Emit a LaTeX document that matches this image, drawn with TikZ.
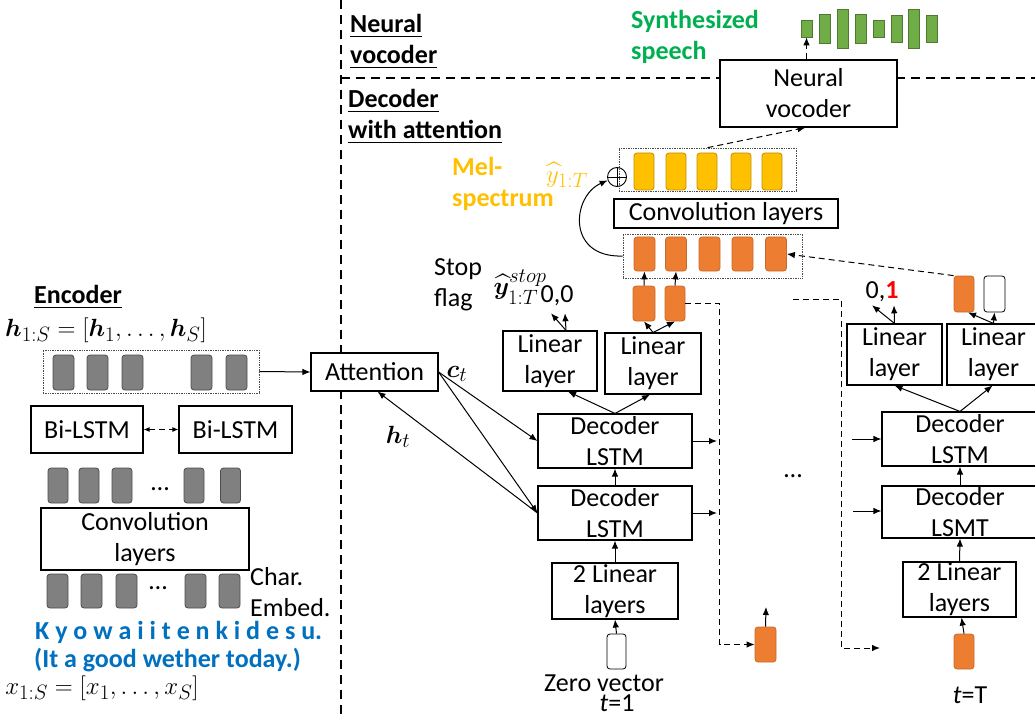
\documentclass[tikz,border=0pt]{standalone}
\usepackage{amsmath, amssymb}
\usepackage{bm}
\usepackage{fontspec}
\setmainfont{Carlito}
\usetikzlibrary{arrows.meta, positioning}

\definecolor{melyellow}{HTML}{FFC000}
\definecolor{melorange}{HTML}{ED7D31}
\definecolor{speechgreen}{HTML}{00B050}
\definecolor{bargreen}{HTML}{70AD47}
\definecolor{textblue}{HTML}{0070C0}

\begin{document}
\begin{tikzpicture}[
    x=1pt, y=-1pt,
    every node/.style={align=center, inner sep=1pt, font=\fontsize{26}{31}\selectfont},
    box/.style={draw, line width=1.1pt, fill=white, inner sep=0pt},
    group/.style={draw=black!70, densely dotted, line width=0.7pt, inner sep=0pt},
    cell/.style={rounded corners=3pt, line width=0.8pt, inner sep=0pt, minimum width=20pt, minimum height=35pt},
    graycell/.style={cell, draw=black!70, fill=black!50},
    orangecell/.style={cell, draw=melorange!85!black, fill=melorange},
    yellowcell/.style={cell, draw=melyellow!75!black, fill=melyellow},
    whitecell/.style={cell, draw=black, fill=white},
    bar/.style={draw=bargreen!70!black, fill=bargreen, line width=0.8pt, inner sep=0pt, minimum width=11pt},
    plus/.style={circle, draw, line width=0.9pt, minimum size=19pt, inner sep=0pt,
        path picture={\draw[line width=0.9pt] (path picture bounding box.north) -- (path picture bounding box.south)
            (path picture bounding box.west) -- (path picture bounding box.east);}},
    arr/.style={-{Latex[length=8pt, width=6.5pt]}, line width=1pt},
    darr/.style={arr, dash pattern=on 6pt off 4pt},
    divider/.style={line width=1.6pt, dash pattern=on 9pt off 6pt},
    section/.style={anchor=west, align=left, font=\fontsize{26}{31}\selectfont\bfseries},
    colortext/.style={anchor=west, align=left, font=\fontsize{26}{31}\selectfont\bfseries},
    mathlabel/.style={font=\fontsize{28}{31}\selectfont},
    val/.style={inner sep=1pt}
]
\useasboundingbox (0,0) rectangle (1035,719);

    % Region borders
    \draw[divider] (341,0) -- (341,719);
    \draw[divider] (341,78) -- (1035,78);

    % Region titles
    \node[section] (vocsec) at (349,42) {\underline{Neural}\\\underline{vocoder}};
    \node[section] (decsec) at (347,116.5) {\underline{Decoder}\\\underline{with attention}};
    \node[section, anchor=center] (encsec) at (78,297) {\underline{Encoder}};

    % Encoder
    \node[mathlabel] (hseq) at (106,330) {$\bm{h}_{1:S}=[\bm{h}_1,\dots,\bm{h}_S]$};
    \node[group, minimum width=216pt, minimum height=43pt] (hgroup) at (151,371.5) {};
    \foreach \x [count=\i] in {63.5,97.5,132.5,201.5,236.5}
        \node[graycell, minimum width=21pt] (h\i) at (\x,372.5) {};
    \node[box, minimum width=112pt, minimum height=47pt] (bifwd) at (87,429.5) {Bi-LSTM};
    \node[box, minimum width=113pt, minimum height=47pt] (bibwd) at (235.5,429.5) {Bi-LSTM};
    \draw[darr, {Latex[length=6pt, width=5pt]}-{Latex[length=6pt, width=5pt]}] (bifwd) -- (bibwd);
    \foreach \x [count=\i] in {58,89,122,194,230.5}
        \node[graycell] (e\i) at (\x,485.5) {};
    \node (edots) at (160,489) {…};
    \node[box, minimum width=208pt, minimum height=62pt] (econv) at (145,539) {Convolution\\layers};
    \foreach \x [count=\i] in {57.5,91.5,126.5,195.5,229.5}
        \node[graycell, minimum width=21pt, minimum height=34pt] (c\i) at (\x,591) {};
    \node (cdots) at (158,588) {…};
    \node[anchor=west, align=left] (charemb) at (249,592) {Char.\\Embed.};
    \node[colortext, text=textblue] (romaji) at (34,632) {K y o w a i i t e n k i d e s u.};
    \node[colortext, text=textblue] (gloss) at (33,660) {(It a good wether today.)};
    \node[mathlabel] (xseq) at (102,688) {$x_{1:S}=[x_1,\dots,x_S]$};

    % Attention
    \node[box, minimum width=127pt, minimum height=38pt] (att) at (374.5,372) {Attention};
    \draw[arr] (hgroup.east) -- (att.west);
    \node[mathlabel] (ct) at (457,374) {$\bm{c}_t$};
    \node[mathlabel] (ht) at (398,437) {$\bm{h}_t$};

    % Neural vocoder
    \node[box, minimum width=177pt, minimum height=67pt] (voc) at (808.5,93.5) {Neural\\vocoder};
    \foreach \x/\h [count=\i] in {806.5/17,825/29,842.5/39,860.5/29,878.5/17,896.5/27,914/39,931.5/27}
        \node[bar, minimum height=\h pt] (bar\i) at (\x,28.5) {};
    \draw[darr] (voc.north -| bar1) -- (bar1.south);
    \node[colortext, text=speechgreen] (speech) at (630,37) {Synthesized\\speech};

    % Post-net
    \node[group, minimum width=177pt, minimum height=43pt] (ygroup) at (707.5,169.5) {};
    \foreach \x [count=\i] in {644,676,707,741,772}
        \node[yellowcell, minimum height=37pt] (y\i) at (\x,171.5) {};
    \node[plus] (plus) at (617,177) {};
    \draw[darr] (ygroup.north) -- ([xshift=-3pt]voc.south);
    \node[box, minimum width=224pt, minimum height=29pt] (pconv) at (726,213.5) {Convolution layers};
    \node[group, minimum width=179pt, minimum height=44pt] (ogroup) at (712.5,256) {};
    \foreach \x [count=\i] in {644.5,676,709.5,742.5,776}
        \node[orangecell, minimum width=21pt, minimum height=34pt] (oc\i) at (\x,254) {};
    \draw[arr] (ogroup.west) .. controls (566,258) and (572,196) .. (plus.200);
    \node[colortext, text=melyellow] (mel) at (451,184) {Mel-\\spectrum};
    \node[mathlabel, text=melyellow] (yhat) at (567,175) {$\widehat{y}_{1:T}$};

    % Decoder step t=1
    \node[box, minimum width=126pt, minimum height=56pt] (pre1) at (615,591) {2 Linear\\layers};
    \node[whitecell, minimum width=19pt] (zero) at (616.5,651.5) {};
    \node[font=\fontsize{26}{20}\selectfont] (zerolab) at (604,693) {Zero vector\\\hspace*{26pt}\textit{t}=1};
    \node[box, minimum width=154pt, minimum height=54pt] (dec1l) at (615,513) {Decoder\\LSTM};
    \node[box, minimum width=154pt, minimum height=54pt] (dec1u) at (615,441) {Decoder\\LSTM};
    \node[box, minimum width=94pt, minimum height=60pt] (lin1s) at (550,361) {Linear\\layer};
    \node[box, minimum width=96pt, minimum height=61pt] (lin1m) at (653,363.5) {Linear\\layer};
    \node[orangecell, minimum width=22pt] (o1) at (644,303.5) {};
    \node[orangecell] (o2) at (675,303.5) {};
    \node[val] (stop1) at (557,296) {0,0};
    \node[anchor=west, align=left] (stopflag) at (433,285) {Stop\\flag};
    \node[mathlabel] (ystop) at (520,287) {$\widehat{\bm{y}}^{stop}_{1:T}$};
    \draw[arr] (zero.north) -- (pre1.south);
    \draw[arr] (pre1.north) -- (dec1l.south);
    \draw[arr] (dec1l.north) -- (dec1u.south);
    \draw[arr] (dec1u.north) -- ([xshift=18pt]lin1s.south);
    \draw[arr] (dec1u.north) -- ([xshift=-3pt]lin1m.south);
    \draw[arr] ([xshift=16pt]lin1s.north) -- ([xshift=-6pt, yshift=-6pt]stop1.south);
    \draw[arr] ([xshift=16pt]lin1s.north) -- ([xshift=8pt, yshift=-6pt]stop1.south);
    \draw[arr] (lin1m.north) -- (o1.south);
    \draw[arr] (lin1m.north) -- (o2.south);
    \draw[arr] (o1.north) -- (oc1.south);
    \draw[arr] (o2.north) -- (oc2.south);
    \draw[arr] (att.east) -- (dec1u.west);
    \draw[arr] (att.east) -- (dec1l.west);
    \draw[arr] (dec1l.west) -- ([xshift=3pt]att.south);

    % Hand-over to later steps
    \coordinate (hout1) at (717,441);
    \coordinate (hout2) at (717,513);
    \draw[arr] (dec1u.east) -- (hout1);
    \draw[arr] (dec1l.east) -- (hout2);
    \node[orangecell, minimum width=21pt] (onext) at (765.5,644.5) {};
    \coordinate (onextout) at (766,607);
    \draw[darr] (o2.east) -| ([xshift=-35pt]onext.west) -- (onext.west);
    \draw[arr] (onext.north) -- (onextout);
    \node (gap) at (793,476) {…};
    \coordinate (loopin) at (793,299);
    \coordinate (loopout) at (880,648);
    \draw[darr] (loopin) -| ([xshift=-39pt]loopout) -- (loopout);
    \coordinate (hin1) at (852,439);
    \coordinate (hin2) at (853,511);

    % Decoder step t=T
    \node[box, minimum width=156pt, minimum height=54pt] (decTu) at (960,439) {Decoder\\LSTM};
    \node[box, minimum width=156pt, minimum height=52pt] (decTl) at (960,512) {Decoder\\LSMT};
    \node[box, minimum width=113pt, minimum height=55pt] (preT) at (959.5,589.5) {2 Linear\\layers};
    \node[orangecell] (oT) at (964,651.5) {};
    \node (tT) at (970,695) {\textit{t}=T};
    \node[box, minimum width=95pt, minimum height=61pt] (linTs) at (894.5,354.5) {Linear\\layer};
    \node[box, minimum width=93pt, minimum height=61pt] (linTm) at (993.5,354.5) {Linear\\layer};
    \node[orangecell, minimum height=36pt] (oTo) at (964,294) {};
    \node[whitecell, minimum width=21pt, minimum height=36pt] (wTo) at (994.5,294) {};
    \node[val] (stopT) at (882,292) {0,\textcolor{red}{\textbf{1}}};
    \draw[arr] (hin1) -- (hin1 -| decTu.west);
    \draw[arr] (hin2) -- (hin2 -| decTl.west);
    \draw[arr] (oT.north) -- ([xshift=2pt]preT.south);
    \draw[arr] (preT.north) -- (decTl.south);
    \draw[arr] (decTl.north) -- (decTu.south);
    \draw[arr] (decTu.north) -- (linTs.south);
    \draw[arr] (decTu.north) -- ([xshift=-1pt]linTm.south);
    \draw[arr] (linTs.north) -- ([xshift=-10pt, yshift=-2pt]stopT.south);
    \draw[arr] (linTs.north) -- ([xshift=12pt, yshift=-2pt]stopT.south);
    \draw[arr] (linTm.north) -- ([xshift=4pt]oTo.south);
    \draw[arr] (linTm.north) -- (wTo.south);
    \draw[darr] (oTo.north west) -- (oc5.east);

\end{tikzpicture}
\end{document}
